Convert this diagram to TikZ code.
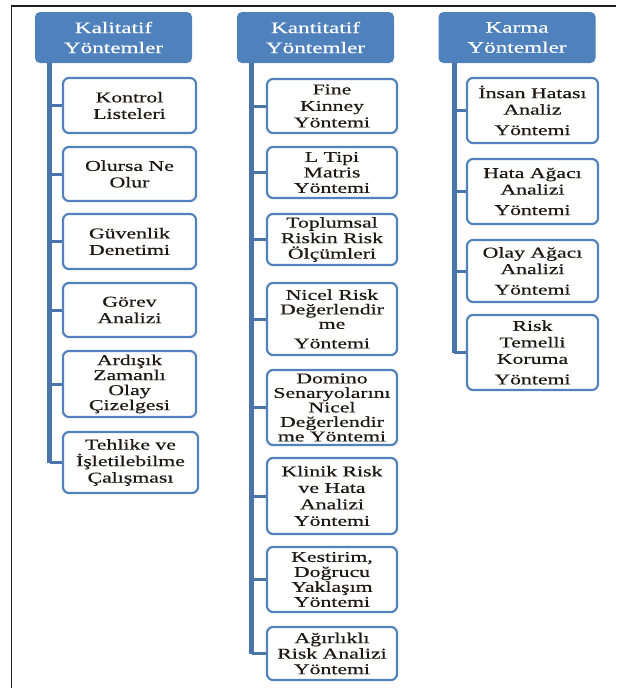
\documentclass[tikz,border=0pt]{standalone}
\usepackage{fontspec}
\setmainfont{Liberation Serif}[FakeStretch=1.45,FakeBold=0.5]
\definecolor{hdrblue}{HTML}{4F81BD}
\definecolor{lineblue}{HTML}{4A74AA}
\definecolor{boxblue}{HTML}{5282BE}
\definecolor{txtdark}{HTML}{1E1812}
\definecolor{framec}{HTML}{1E1E1E}
\begin{document}
\begin{tikzpicture}[x=1pt,y=-1pt,
  hdr/.style={fill=hdrblue, rounded corners=5pt, text=white, align=center, inner sep=0pt,
    minimum width=157pt, minimum height=51pt, font=\fontsize{16}{20}\selectfont},
  item/.style={draw=boxblue, line width=2.2pt, fill=white, rounded corners=6pt, align=center,
    inner sep=0pt, text=txtdark, font=\fontsize{15}{16.5}\selectfont},
  colA/.style={item, minimum width=133pt},
  colB/.style={item, minimum width=130pt},
  colC/.style={item, minimum width=131pt},
  trunk/.style={draw=lineblue, line width=5pt},
  branch/.style={draw=lineblue, line width=3pt},
  frameline/.style={draw=framec, line width=1.6pt}]
\useasboundingbox (0,0) rectangle (616,688);

% frame
\coordinate (fTL) at (11.5,6);
\coordinate (fTR) at (616,6);
\coordinate (fBL) at (11.5,688);
\draw[frameline] (fTR) -- (fTL) -- (fBL);

% headers
\node[hdr] (h1) at (113.5,37.5) {Kalitatif\\Yöntemler};
\node[hdr] (h2) at (315.5,37.5) {Kantitatif\\Yöntemler};
\node[hdr] (h3) at (517,37.5) {Karma\\Yöntemler};

% Kalitatif
\node[colA, minimum height=55pt] (a1) at (129.5,105.5) {Kontrol\\Listeleri};
\node[colA, minimum height=54pt] (a2) at (129.5,174) {Olursa Ne\\Olur};
\node[colA, minimum height=55pt] (a3) at (129.5,241.5) {Güvenlik\\Denetimi};
\node[colA, minimum height=54pt] (a4) at (129.5,310) {Görev\\Analizi};
\node[colA, minimum height=66pt, font=\fontsize{15}{15}\selectfont] (a5) at (129.5,384) {Ardışık\\Zamanlı\\Olay\\Çizelgesi};
\node[colA, minimum height=61pt, minimum width=135pt] (a6) at (130.5,462.5) {Tehlike ve\\İşletilebilme\\Çalışması};

% Kantitatif
\node[colB, minimum height=54pt] (b1) at (332,106) {Fine\\Kinney\\Yöntemi};
\node[colB, minimum height=51pt, font=\fontsize{15}{15.5}\selectfont] (b2) at (332,172.5) {L Tipi\\Matris\\Yöntemi};
\node[colB, minimum height=51pt, font=\fontsize{15}{15.5}\selectfont] (b3) at (332,239.5) {Toplumsal\\Riskin Risk\\Ölçümleri};
\node[colB, minimum height=72pt, font=\fontsize{15}{14.5}\selectfont] (b4) at (332,319) {Nicel Risk\\Değerlendir\\me\\[5pt]Yöntemi};
\node[colB, minimum height=75pt, font=\fontsize{15}{14.5}\selectfont] (b5) at (332,407.5) {Domino\\Senaryolarını\\Nicel\\Değerlendir\\me Yöntemi};
\node[colB, minimum height=76pt] (b6) at (332,496) {Klinik Risk\\ve Hata\\Analizi\\Yöntemi};
\node[colB, minimum height=65pt, font=\fontsize{15}{15}\selectfont] (b7) at (332,579.5) {Kestirim,\\Doğrucu\\Yaklaşım\\Yöntemi};
\node[colB, minimum height=53pt, font=\fontsize{15}{15.5}\selectfont] (b8) at (332,653.5) {Ağırlıklı\\Risk Analizi\\Yöntemi};

% Karma
\node[colC, minimum height=65pt] (c1) at (532.5,110.5) {İnsan Hatası\\Analiz\\[4pt]Yöntemi};
\node[colC, minimum height=65pt] (c2) at (532.5,191.5) {Hata Ağacı\\Analizi\\[4pt]Yöntemi};
\node[colC, minimum height=62pt] (c3) at (532.5,271) {Olay Ağacı\\Analizi\\[4pt]Yöntemi};
\node[colC, minimum height=75pt] (c4) at (532.5,352.5) {Risk\\Temelli\\Koruma\\[4pt]Yöntemi};

% trunks
\coordinate (ta) at ([xshift=15pt]h1.south west);
\coordinate (tb) at ([xshift=15pt]h2.south west);
\coordinate (tc) at ([xshift=16pt]h3.south west);
\coordinate (ea) at (ta |- a6.west);
\coordinate (eb) at (tb |- b8.west);
\coordinate (ec) at (tc |- c4.west);
\draw[trunk] (ta) -- (ea);
\draw[trunk] (tb) -- (eb);
\draw[trunk] (tc) -- (ec);

% branches
\foreach \n in {a1,a2,a3,a4,a5,a6}{\draw[branch] (ta |- \n.west) -- (\n.west);}
\foreach \n in {b1,b2,b3,b4,b5,b6,b7,b8}{\draw[branch] (tb |- \n.west) -- (\n.west);}
\foreach \n in {c1,c2,c3,c4}{\draw[branch] (tc |- \n.west) -- (\n.west);}
\end{tikzpicture}
\end{document}
